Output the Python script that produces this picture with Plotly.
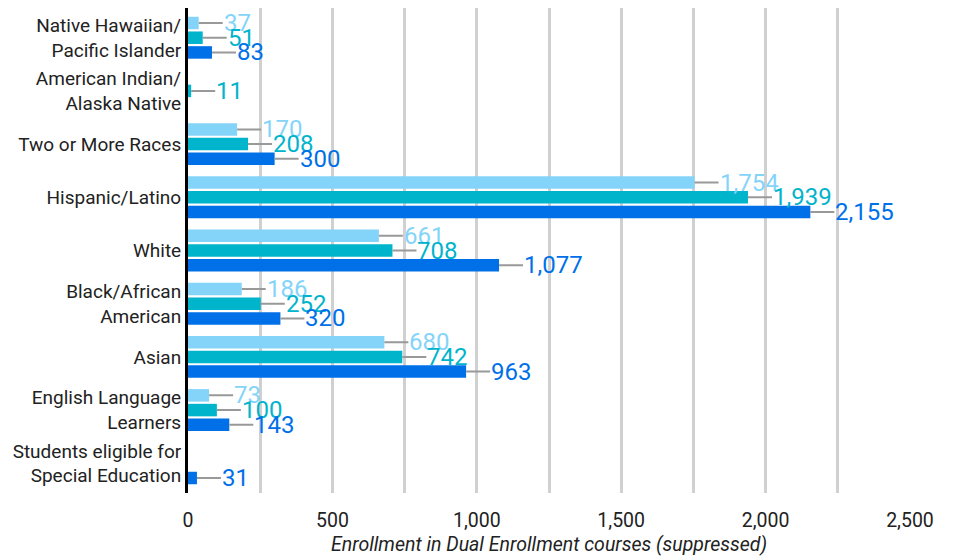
import plotly.graph_objects as go

categories = [
    "Native Hawaiian/<br>Pacific Islander",
    "American Indian/<br>Alaska Native",
    "Two or More Races",
    "Hispanic/Latino",
    "White",
    "Black/African<br>American",
    "Asian",
    "English Language<br>Learners",
    "Students eligible for<br>Special Education",
]
series_a = [37, None, 170, 1754, 661, 186, 680, 73, None]
series_b = [51, 11, 208, 1939, 708, 252, 742, 100, None]
series_c = [83, None, 300, 2155, 1077, 320, 963, 143, 31]

series = [series_a, series_b, series_c]
bar_colors = ["#84d4fa", "#00b4cc", "#0070e8"]
text_colors = ["#84d4fa", "#00b4cc", "#0070e8"]

BARGAP = 0.17
BARGROUPGAP = 0.15
FONT = "Roboto"

fig = go.Figure()
for k, vals in enumerate(series):
    fig.add_trace(go.Bar(
        y=categories, x=vals, orientation="h",
        marker=dict(color=bar_colors[k], line=dict(width=0)),
        hoverinfo="skip", showlegend=False,
    ))

slot = (1 - BARGAP) / 3
annotations = []
for k, vals in enumerate(series):
    for i, v in enumerate(vals):
        if v is None:
            continue
        annotations.append(dict(
            x=v, y=i + (k - 1) * slot, xref="x", yref="y",
            text=f"{v:,}", showarrow=True, arrowhead=0, arrowwidth=2,
            arrowcolor="#999999", ax=24, ay=0, axref="pixel", ayref="pixel",
            xanchor="left", yanchor="middle", borderpad=0,
            font=dict(family=FONT, size=24, color=text_colors[k]),
        ))

fig.update_layout(
    width=954, height=558,
    margin=dict(l=180, r=52, t=0, b=73),
    paper_bgcolor="white", plot_bgcolor="white",
    barmode="group", bargap=BARGAP, bargroupgap=BARGROUPGAP,
    font=dict(family=FONT, size=19, color="#222222"),
    annotations=annotations,
    xaxis=dict(
        range=[0, 2500], dtick=500, tickformat=",", showgrid=True,
        gridcolor="#d0d0d0", gridwidth=2.5, zeroline=False,
        minor=dict(dtick=250, showgrid=True, gridcolor="#d0d0d0", gridwidth=2.5),
        ticks="", ticklabelstandoff=13, automargin=False,
        tickfont=dict(family=FONT, size=19.5, color="#222222"),
        title=dict(text="<i>Enrollment in Dual Enrollment courses (suppressed)</i>",
                   font=dict(family=FONT, size=19.5, color="#222222"), standoff=6),
        fixedrange=True,
    ),
    yaxis=dict(
        autorange="reversed", showline=True, linecolor="black", linewidth=3,
        showgrid=False, ticks="", ticklabelstandoff=0, automargin=False,
        tickfont=dict(family=FONT, size=19, color="#222222"),
        fixedrange=True,
    ),
)

fig.write_html("out.html")
